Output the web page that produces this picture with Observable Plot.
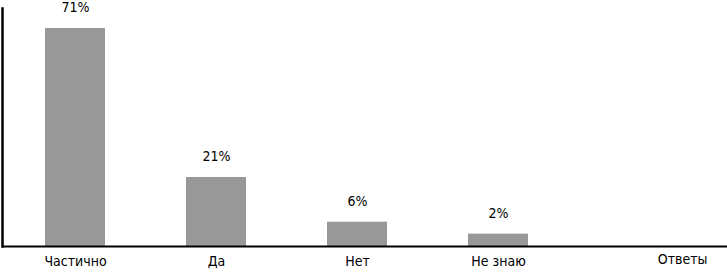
<!DOCTYPE html>
<html>
<head>
<meta charset="utf-8">
<script src="https://cdn.jsdelivr.net/npm/d3@7"></script>
<script src="https://cdn.jsdelivr.net/npm/@observablehq/plot@0.6"></script>
<style>
  html, body { margin: 0; padding: 0; background: #fff; }
</style>
</head>
<body>
<div id="chart"></div>
<script>
const categories = ["Частично", "Да", "Нет", "Не знаю"];
const values = [71, 21, 6, 2];
const labels = ["71%", "21%", "6%", "2%"];
const axisLabel = "Ответы";

const data = categories.map((c, i) => ({answer: c, value: values[i], label: labels[i]}));
const yBase = -2.15;
const font = "'Liberation Sans Narrow', 'DejaVu Sans Condensed', sans-serif";

const chart = Plot.plot({
  width: 727,
  height: 272,
  marginLeft: 2,
  marginRight: 0,
  marginTop: 8,
  marginBottom: 26,
  style: {fontSize: "14px", fontFamily: font, color: "#000"},
  x: {domain: categories, range: [4.5, 568.5], paddingInner: 0.574, paddingOuter: 0.287, align: 0.5, label: null, tickSize: 0, tickPadding: 10},
  y: {domain: [yBase, 77.7], axis: null},
  marks: [
    Plot.barY(data, {x: "answer", y1: () => yBase, y2: "value", fill: "#989898"}),
    Plot.frame({anchor: "left", stroke: "#000", strokeWidth: 2.5}),
    Plot.ruleY([yBase], {stroke: "#000", strokeWidth: 2}),
    Plot.text(data, {x: "answer", y: "value", text: "label", dy: -21, fontSize: 14, fill: "#000"}),
    Plot.text([axisLabel], {frameAnchor: "bottom-right", dx: -20, dy: 17, fontSize: 14, fill: "#000"})
  ]
});
document.getElementById("chart").appendChild(chart);
</script>
</body>
</html>
